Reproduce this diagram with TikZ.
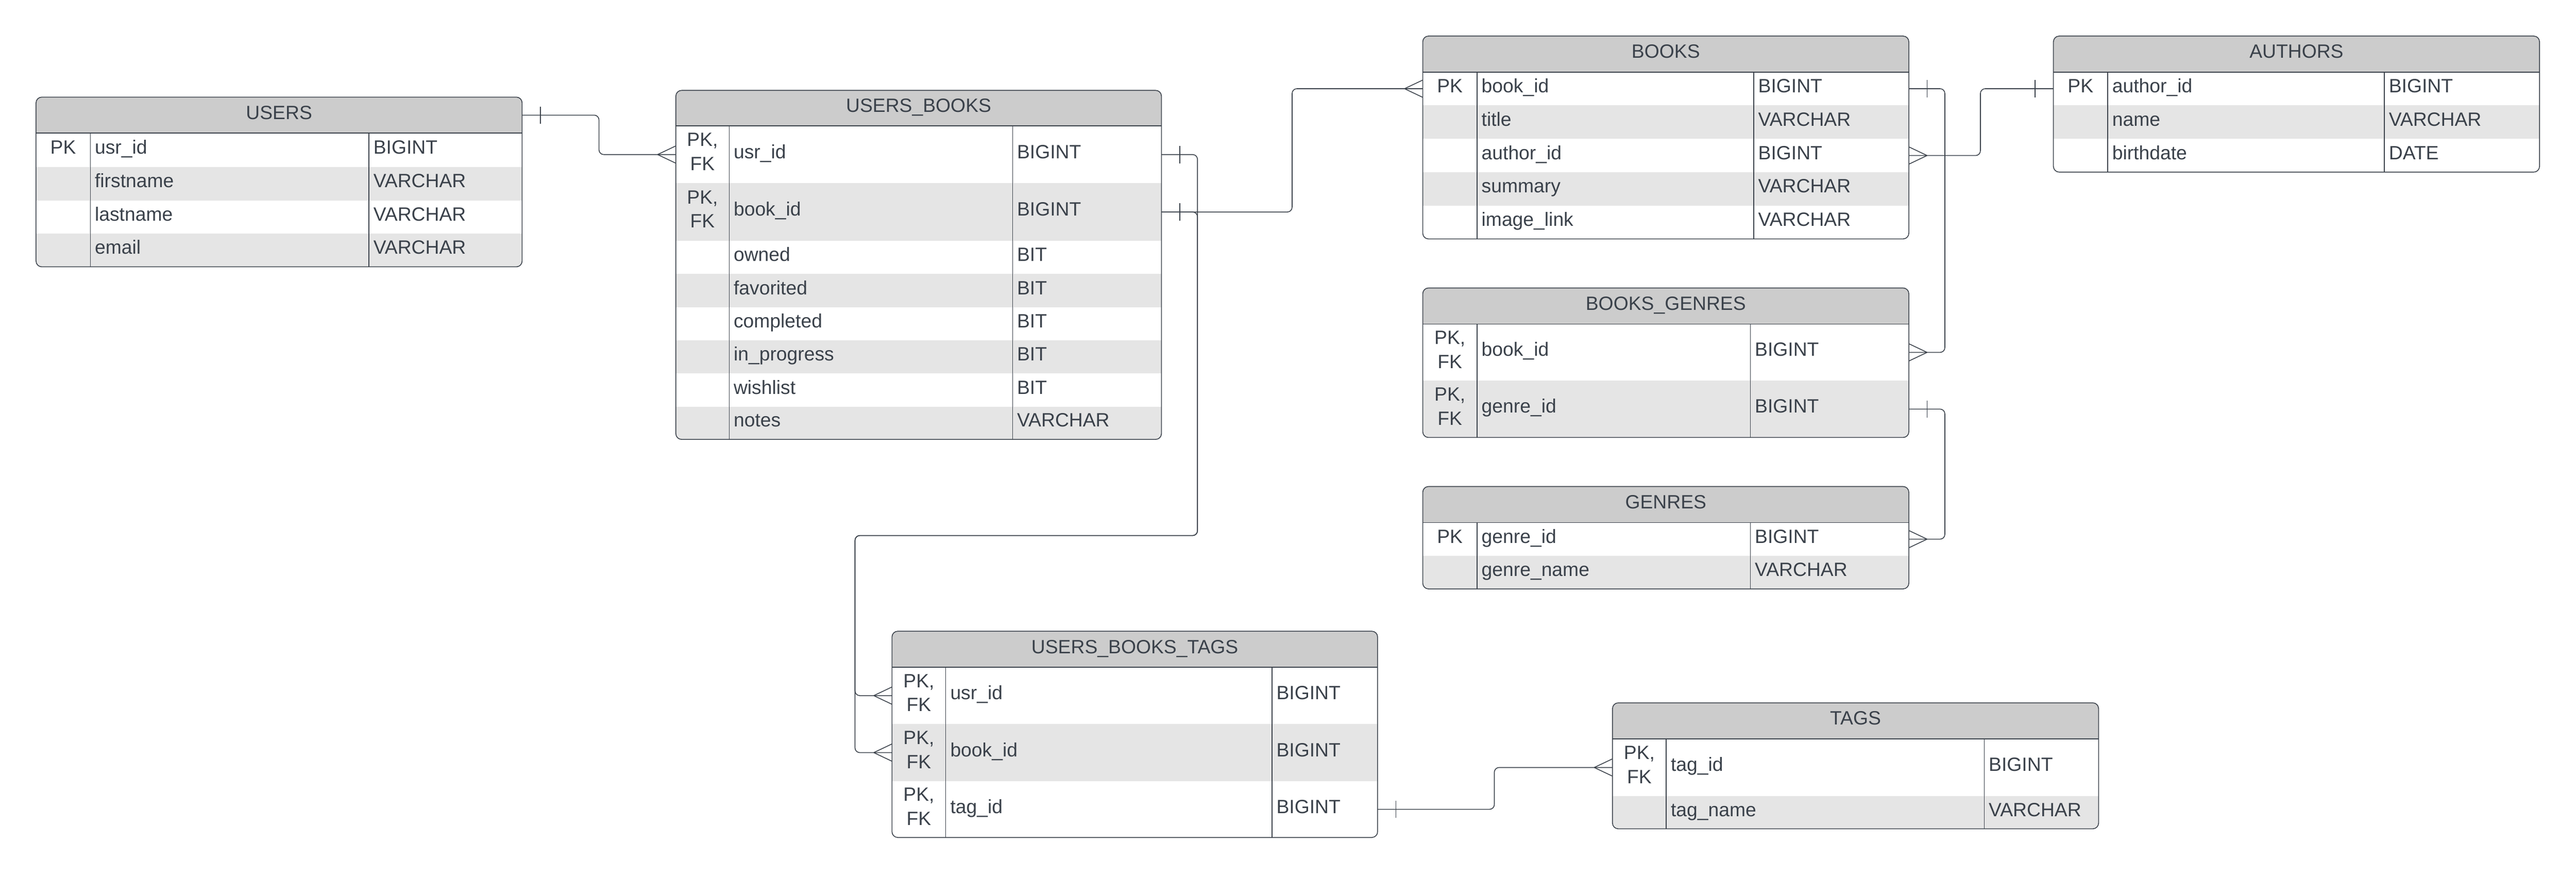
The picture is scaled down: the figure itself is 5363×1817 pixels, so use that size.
\documentclass[tikz,border=0pt]{standalone}
\usepackage{fontspec}
\setmainfont{Liberation Sans}
\usetikzlibrary{fit,calc}
\definecolor{erline}{HTML}{3A414A}
\definecolor{erhead}{HTML}{CCCCCC}
\definecolor{errow}{HTML}{E5E5E5}
\newcommand{\pkfk}{\raisebox{-12.5pt}{\begin{tabular}[b]{@{}c@{}}PK,\\FK\end{tabular}}}
\begin{document}
\begin{tikzpicture}[x=0.5pt,y=-0.5pt,font=\fontsize{20}{25}\selectfont,text=erline,
tblframe/.style={draw=erline,line width=0.85pt,rounded corners=6pt},
headrule/.style={draw=erline,line width=0.95pt},
colrule/.style={draw=erline,line width=0.8pt},
cell/.style={inner sep=0pt,outer sep=0pt},
keytext/.style={anchor=base,inner sep=0pt},
celltext/.style={anchor=base west,inner sep=0pt},
headtext/.style={anchor=base,inner sep=0pt},
conn/.style={draw=erline,line width=0.85pt,rounded corners=5pt},
crow/.pic={\draw[conn] (-38,0) -- (0,-18) (-38,0) -- (0,18);},
onebar/.pic={\draw[conn] (-38,-18) -- (-38,18);}]
\useasboundingbox (0,0) rectangle (5363,1817);
% USERS
\pgfmathsetmacro{\xa}{75}\pgfmathsetmacro{\xb}{1087}\pgfmathsetmacro{\xk}{188}\pgfmathsetmacro{\xt}{768}
\pgfmathsetmacro{\ya}{202}\pgfmathsetmacro{\yh}{277}\pgfmathsetmacro{\yb}{555}
\begin{scope}
\clip[rounded corners=6pt] (\xa,\ya) rectangle (\xb,\yb);
\fill[erhead] (\xa,\ya) rectangle (\xb,\yh);
\foreach \rtop/\rbot in {347/417,486/555} \fill[errow] (\xa,\rtop) rectangle (\xb,\rbot);
\end{scope}
\draw[tblframe] (\xa,\ya) rectangle (\xb,\yb);
\draw[headrule] (\xa,\yh) -- (\xb,\yh);
\draw[colrule] (\xk,\yh) -- (\xk,\yb) (\xt,\yh) -- (\xt,\yb);
\node[cell,fit={(\xa,\ya) (\xb,\yh)}] (users) {};
\node[headtext] (users-title) at ({(\xa+\xb)/2},{(\ya+\yh)/2+8.5}) {USERS};
\foreach \rid/\rtop/\rbot/\kk/\nn/\tp in {usr/277/347/PK/usr\_id/BIGINT,first/347/417//firstname/VARCHAR,last/417/486//lastname/VARCHAR,email/486/555//email/VARCHAR}{
\node[cell,fit={(\xa,\rtop) (\xb,\rbot)}] (users-\rid) {};
\node[keytext] (users-\rid-k) at ({(\xa+\xk)/2},{(\rtop+\rbot)/2+8}) {\kk};
\node[celltext] (users-\rid-n) at (\xk+9,{(\rtop+\rbot)/2+8}) {\nn};
\node[celltext] (users-\rid-t) at (\xt+9,{(\rtop+\rbot)/2+8}) {\tp};
}
% USERS_BOOKS
\pgfmathsetmacro{\xa}{1407}\pgfmathsetmacro{\xb}{2418}\pgfmathsetmacro{\xk}{1518}\pgfmathsetmacro{\xt}{2108}
\pgfmathsetmacro{\ya}{188}\pgfmathsetmacro{\yh}{262}\pgfmathsetmacro{\yb}{914}
\begin{scope}
\clip[rounded corners=6pt] (\xa,\ya) rectangle (\xb,\yb);
\fill[erhead] (\xa,\ya) rectangle (\xb,\yh);
\foreach \rtop/\rbot in {381/501,570/639,708/777,846/914} \fill[errow] (\xa,\rtop) rectangle (\xb,\rbot);
\end{scope}
\draw[tblframe] (\xa,\ya) rectangle (\xb,\yb);
\draw[headrule] (\xa,\yh) -- (\xb,\yh);
\draw[colrule] (\xk,\yh) -- (\xk,\yb) (\xt,\yh) -- (\xt,\yb);
\node[cell,fit={(\xa,\ya) (\xb,\yh)}] (ub) {};
\node[headtext] (ub-title) at ({(\xa+\xb)/2},{(\ya+\yh)/2+8.5}) {USERS\_BOOKS};
\foreach \rid/\rtop/\rbot/\kk/\nn/\tp in {usr/262/381/\pkfk/usr\_id/BIGINT,book/381/501/\pkfk/book\_id/BIGINT,owned/501/570//owned/BIT,fav/570/639//favorited/BIT,done/639/708//completed/BIT,prog/708/777//in\_progress/BIT,wish/777/846//wishlist/BIT,notes/846/914//notes/VARCHAR}{
\node[cell,fit={(\xa,\rtop) (\xb,\rbot)}] (ub-\rid) {};
\node[keytext] (ub-\rid-k) at ({(\xa+\xk)/2},{(\rtop+\rbot)/2+8}) {\kk};
\node[celltext] (ub-\rid-n) at (\xk+9,{(\rtop+\rbot)/2+8}) {\nn};
\node[celltext] (ub-\rid-t) at (\xt+9,{(\rtop+\rbot)/2+8}) {\tp};
}
% BOOKS
\pgfmathsetmacro{\xa}{2962}\pgfmathsetmacro{\xb}{3974}\pgfmathsetmacro{\xk}{3075}\pgfmathsetmacro{\xt}{3651}
\pgfmathsetmacro{\ya}{75}\pgfmathsetmacro{\yh}{150}\pgfmathsetmacro{\yb}{497}
\begin{scope}
\clip[rounded corners=6pt] (\xa,\ya) rectangle (\xb,\yb);
\fill[erhead] (\xa,\ya) rectangle (\xb,\yh);
\foreach \rtop/\rbot in {219/289,358/428} \fill[errow] (\xa,\rtop) rectangle (\xb,\rbot);
\end{scope}
\draw[tblframe] (\xa,\ya) rectangle (\xb,\yb);
\draw[headrule] (\xa,\yh) -- (\xb,\yh);
\draw[colrule] (\xk,\yh) -- (\xk,\yb) (\xt,\yh) -- (\xt,\yb);
\node[cell,fit={(\xa,\ya) (\xb,\yh)}] (books) {};
\node[headtext] (books-title) at ({(\xa+\xb)/2},{(\ya+\yh)/2+8.5}) {BOOKS};
\foreach \rid/\rtop/\rbot/\kk/\nn/\tp in {book/150/219/PK/book\_id/BIGINT,title/219/289//title/VARCHAR,author/289/358//author\_id/BIGINT,summary/358/428//summary/VARCHAR,image/428/497//image\_link/VARCHAR}{
\node[cell,fit={(\xa,\rtop) (\xb,\rbot)}] (books-\rid) {};
\node[keytext] (books-\rid-k) at ({(\xa+\xk)/2},{(\rtop+\rbot)/2+8}) {\kk};
\node[celltext] (books-\rid-n) at (\xk+9,{(\rtop+\rbot)/2+8}) {\nn};
\node[celltext] (books-\rid-t) at (\xt+9,{(\rtop+\rbot)/2+8}) {\tp};
}
% AUTHORS
\pgfmathsetmacro{\xa}{4275}\pgfmathsetmacro{\xb}{5287}\pgfmathsetmacro{\xk}{4388}\pgfmathsetmacro{\xt}{4964}
\pgfmathsetmacro{\ya}{75}\pgfmathsetmacro{\yh}{150}\pgfmathsetmacro{\yb}{358}
\begin{scope}
\clip[rounded corners=6pt] (\xa,\ya) rectangle (\xb,\yb);
\fill[erhead] (\xa,\ya) rectangle (\xb,\yh);
\fill[errow] (\xa,219) rectangle (\xb,289);
\end{scope}
\draw[tblframe] (\xa,\ya) rectangle (\xb,\yb);
\draw[headrule] (\xa,\yh) -- (\xb,\yh);
\draw[colrule] (\xk,\yh) -- (\xk,\yb) (\xt,\yh) -- (\xt,\yb);
\node[cell,fit={(\xa,\ya) (\xb,\yh)}] (authors) {};
\node[headtext] (authors-title) at ({(\xa+\xb)/2},{(\ya+\yh)/2+8.5}) {AUTHORS};
\foreach \rid/\rtop/\rbot/\kk/\nn/\tp in {id/150/219/PK/author\_id/BIGINT,name/219/289//name/VARCHAR,birth/289/358//birthdate/DATE}{
\node[cell,fit={(\xa,\rtop) (\xb,\rbot)}] (authors-\rid) {};
\node[keytext] (authors-\rid-k) at ({(\xa+\xk)/2},{(\rtop+\rbot)/2+8}) {\kk};
\node[celltext] (authors-\rid-n) at (\xk+9,{(\rtop+\rbot)/2+8}) {\nn};
\node[celltext] (authors-\rid-t) at (\xt+9,{(\rtop+\rbot)/2+8}) {\tp};
}
% BOOKS_GENRES
\pgfmathsetmacro{\xa}{2962}\pgfmathsetmacro{\xb}{3974}\pgfmathsetmacro{\xk}{3075}\pgfmathsetmacro{\xt}{3644}
\pgfmathsetmacro{\ya}{599}\pgfmathsetmacro{\yh}{674}\pgfmathsetmacro{\yb}{910}
\begin{scope}
\clip[rounded corners=6pt] (\xa,\ya) rectangle (\xb,\yb);
\fill[erhead] (\xa,\ya) rectangle (\xb,\yh);
\fill[errow] (\xa,792) rectangle (\xb,910);
\end{scope}
\draw[tblframe] (\xa,\ya) rectangle (\xb,\yb);
\draw[headrule] (\xa,\yh) -- (\xb,\yh);
\draw[colrule] (\xk,\yh) -- (\xk,\yb) (\xt,\yh) -- (\xt,\yb);
\node[cell,fit={(\xa,\ya) (\xb,\yh)}] (bg) {};
\node[headtext] (bg-title) at ({(\xa+\xb)/2},{(\ya+\yh)/2+8.5}) {BOOKS\_GENRES};
\foreach \rid/\rtop/\rbot/\kk/\nn/\tp in {book/674/792/\pkfk/book\_id/BIGINT,genre/792/910/\pkfk/genre\_id/BIGINT}{
\node[cell,fit={(\xa,\rtop) (\xb,\rbot)}] (bg-\rid) {};
\node[keytext] (bg-\rid-k) at ({(\xa+\xk)/2},{(\rtop+\rbot)/2+8}) {\kk};
\node[celltext] (bg-\rid-n) at (\xk+9,{(\rtop+\rbot)/2+8}) {\nn};
\node[celltext] (bg-\rid-t) at (\xt+9,{(\rtop+\rbot)/2+8}) {\tp};
}
% GENRES
\pgfmathsetmacro{\ya}{1012}\pgfmathsetmacro{\yh}{1087}\pgfmathsetmacro{\yb}{1225}
\begin{scope}
\clip[rounded corners=6pt] (\xa,\ya) rectangle (\xb,\yb);
\fill[erhead] (\xa,\ya) rectangle (\xb,\yh);
\fill[errow] (\xa,1156) rectangle (\xb,1225);
\end{scope}
\draw[tblframe] (\xa,\ya) rectangle (\xb,\yb);
\draw[headrule] (\xa,\yh) -- (\xb,\yh);
\draw[colrule] (\xk,\yh) -- (\xk,\yb) (\xt,\yh) -- (\xt,\yb);
\node[cell,fit={(\xa,\ya) (\xb,\yh)}] (genres) {};
\node[headtext] (genres-title) at ({(\xa+\xb)/2},{(\ya+\yh)/2+8.5}) {GENRES};
\foreach \rid/\rtop/\rbot/\kk/\nn/\tp in {id/1087/1156/PK/genre\_id/BIGINT,name/1156/1225//genre\_name/VARCHAR}{
\node[cell,fit={(\xa,\rtop) (\xb,\rbot)}] (genres-\rid) {};
\node[keytext] (genres-\rid-k) at ({(\xa+\xk)/2},{(\rtop+\rbot)/2+8}) {\kk};
\node[celltext] (genres-\rid-n) at (\xk+9,{(\rtop+\rbot)/2+8}) {\nn};
\node[celltext] (genres-\rid-t) at (\xt+9,{(\rtop+\rbot)/2+8}) {\tp};
}
% USERS_BOOKS_TAGS
\pgfmathsetmacro{\xa}{1857}\pgfmathsetmacro{\xb}{2868}\pgfmathsetmacro{\xk}{1969}\pgfmathsetmacro{\xt}{2648}
\pgfmathsetmacro{\ya}{1313}\pgfmathsetmacro{\yh}{1388}\pgfmathsetmacro{\yb}{1742}
\begin{scope}
\clip[rounded corners=6pt] (\xa,\ya) rectangle (\xb,\yb);
\fill[erhead] (\xa,\ya) rectangle (\xb,\yh);
\fill[errow] (\xa,1506) rectangle (\xb,1625);
\end{scope}
\draw[tblframe] (\xa,\ya) rectangle (\xb,\yb);
\draw[headrule] (\xa,\yh) -- (\xb,\yh);
\draw[colrule] (\xk,\yh) -- (\xk,\yb) (\xt,\yh) -- (\xt,\yb);
\node[cell,fit={(\xa,\ya) (\xb,\yh)}] (ubt) {};
\node[headtext] (ubt-title) at ({(\xa+\xb)/2},{(\ya+\yh)/2+8.5}) {USERS\_BOOKS\_TAGS};
\foreach \rid/\rtop/\rbot/\kk/\nn/\tp in {usr/1388/1506/\pkfk/usr\_id/BIGINT,book/1506/1625/\pkfk/book\_id/BIGINT,tag/1625/1742/\pkfk/tag\_id/BIGINT}{
\node[cell,fit={(\xa,\rtop) (\xb,\rbot)}] (ubt-\rid) {};
\node[keytext] (ubt-\rid-k) at ({(\xa+\xk)/2},{(\rtop+\rbot)/2+8}) {\kk};
\node[celltext] (ubt-\rid-n) at (\xk+9,{(\rtop+\rbot)/2+8}) {\nn};
\node[celltext] (ubt-\rid-t) at (\xt+9,{(\rtop+\rbot)/2+8}) {\tp};
}
% TAGS
\pgfmathsetmacro{\xa}{3357}\pgfmathsetmacro{\xb}{4369}\pgfmathsetmacro{\xk}{3469}\pgfmathsetmacro{\xt}{4131}
\pgfmathsetmacro{\ya}{1462}\pgfmathsetmacro{\yh}{1537}\pgfmathsetmacro{\yb}{1724}
\begin{scope}
\clip[rounded corners=6pt] (\xa,\ya) rectangle (\xb,\yb);
\fill[erhead] (\xa,\ya) rectangle (\xb,\yh);
\fill[errow] (\xa,1656) rectangle (\xb,1724);
\end{scope}
\draw[tblframe] (\xa,\ya) rectangle (\xb,\yb);
\draw[headrule] (\xa,\yh) -- (\xb,\yh);
\draw[colrule] (\xk,\yh) -- (\xk,\yb) (\xt,\yh) -- (\xt,\yb);
\node[cell,fit={(\xa,\ya) (\xb,\yh)}] (tags) {};
\node[headtext] (tags-title) at ({(\xa+\xb)/2},{(\ya+\yh)/2+8.5}) {TAGS};
\foreach \rid/\rtop/\rbot/\kk/\nn/\tp in {id/1537/1656/\pkfk/tag\_id/BIGINT,name/1656/1724//tag\_name/VARCHAR}{
\node[cell,fit={(\xa,\rtop) (\xb,\rbot)}] (tags-\rid) {};
\node[keytext] (tags-\rid-k) at ({(\xa+\xk)/2},{(\rtop+\rbot)/2+8}) {\kk};
\node[celltext] (tags-\rid-n) at (\xk+9,{(\rtop+\rbot)/2+8}) {\nn};
\node[celltext] (tags-\rid-t) at (\xt+9,{(\rtop+\rbot)/2+8}) {\tp};
}
% relations
\coordinate (tagbend) at (1780,1114);
\draw[conn] (users.east) -- ++(160,0) |- (ub-usr.west);
\draw[conn] (ub-usr.east) -- ++(75,0) |- (tagbend) |- (ubt-usr.west);
\draw[conn] (ub-book.east) -- ++(75,0) |- (tagbend) |- (ubt-book.west);
\draw[conn] (ub-book.east) -- ++(272,0) |- (books-book.west);
\draw[conn] (books-book.east) -- ++(75,0) |- (bg-book.east);
\draw[conn] (books-author.east) -- ++(149,0) |- (authors-id.west);
\draw[conn] (bg-genre.east) -- ++(75,0) |- (genres-id.east);
\draw[conn] (ubt-tag.east) -- ++(243,0) |- (tags-id.west);
\pic[xscale=-1] at (users.east) {onebar};
\pic[xscale=-1] at (ub-usr.east) {onebar};
\pic[xscale=-1] at (ub-book.east) {onebar};
\pic[xscale=-1] at (books-book.east) {onebar};
\pic at (authors-id.west) {onebar};
\pic[xscale=-1] at (bg-genre.east) {onebar};
\pic[xscale=-1] at (ubt-tag.east) {onebar};
\pic at (ub-usr.west) {crow};
\pic at (ubt-usr.west) {crow};
\pic at (ubt-book.west) {crow};
\pic at (books-book.west) {crow};
\pic at (tags-id.west) {crow};
\pic[xscale=-1] at (bg-book.east) {crow};
\pic[xscale=-1] at (books-author.east) {crow};
\pic[xscale=-1] at (genres-id.east) {crow};
\end{tikzpicture}
\end{document}
